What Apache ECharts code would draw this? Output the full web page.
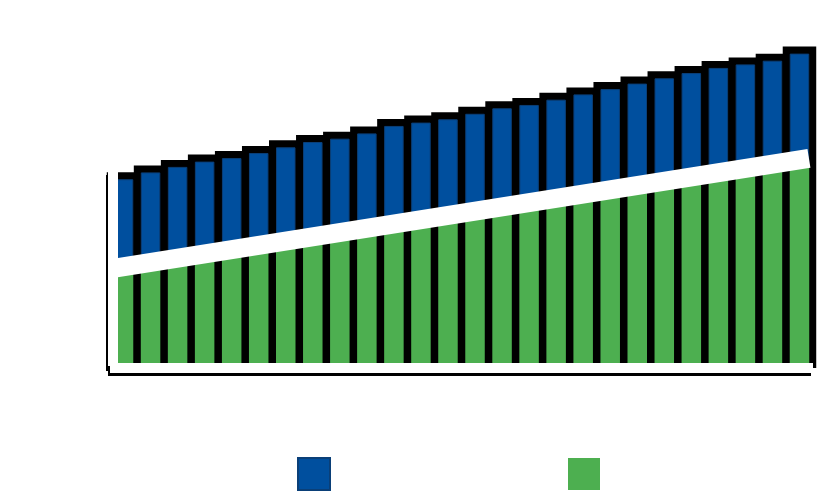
<!DOCTYPE html>
<html>
<head>
<meta charset="utf-8">
<title>Stacked bars</title>
<script src="https://cdn.jsdelivr.net/npm/echarts@6/dist/echarts.min.js"></script>
<style>
  html, body { margin: 0; padding: 0; background: #fff; }
  #chart { width: 817px; height: 495px; }
</style>
</head>
<body>
<div id="chart"></div>
<script>
(function () {
  'use strict';

  const categories = ['1', '2', '3', '4', '5', '6', '7', '8', '9', '10', '11', '12', '13',
    '14', '15', '16', '17', '18', '19', '20', '21', '22', '23', '24', '25', '26'];

  const totals = [96.3, 99.8, 102.6, 105.3, 107.1, 109.7, 112.6, 115.3, 117.0, 119.7, 123.5, 125.2, 126.9,
    129.7, 132.5, 134.2, 136.9, 139.6, 142.3, 145.1, 147.8, 150.5, 153.1, 154.9, 156.8, 160.4];

  // lower (green) part, the split sits under the white line
  const lower = [51.7, 53.8, 55.9, 58.0, 60.1, 62.2, 64.3, 66.4, 68.5, 70.6, 72.7, 74.8, 76.9,
    79.0, 81.1, 83.2, 85.3, 87.4, 89.5, 91.6, 93.7, 95.8, 97.9, 100.0, 102.0, 104.1];

  const upper = totals.map((t, i) => Number((t - lower[i]).toFixed(1)));

  // white trend band, [position, value]
  const trend = [[0, 50.6], [25.85, 106.9]];

  const BAR_W = 19.5;
  const FRAME = 7;

  const chart = echarts.init(document.getElementById('chart'), null, { renderer: 'canvas' });

  const axisLine = {
    show: true,
    lineStyle: {
      color: '#ffffff',
      width: 10,
      cap: 'butt',
      shadowColor: '#000000',
      shadowBlur: 0,
      shadowOffsetX: -2,
      shadowOffsetY: 3
    }
  };

  // black block behind each column, a few px larger than the bar
  function renderFrame(params, api) {
    const top = api.coord([api.value(0), api.value(1)]);
    const base = api.coord([api.value(0), 0]);
    const w = BAR_W + FRAME * 2;
    return {
      type: 'rect',
      shape: { x: top[0] - w / 2, y: top[1] - FRAME, width: w, height: base[1] - top[1] + FRAME },
      style: { fill: '#000000' },
      silent: true
    };
  }

  chart.setOption({
    animation: false,
    backgroundColor: '#ffffff',
    grid: { left: 110, right: 4, top: 172, bottom: 127 },
    legend: {
      left: 297,
      top: 457,
      padding: 0,
      itemWidth: 32,
      itemHeight: 32,
      itemGap: 237,
      icon: 'rect',
      formatter: () => '',
      data: ['Upper', 'Lower']
    },
    xAxis: [
      {
        type: 'category',
        data: categories,
        z: 10,
        axisLine,
        axisTick: { show: false },
        axisLabel: { show: false },
        splitLine: { show: false }
      },
      { type: 'value', min: 0, max: 26, show: false }
    ],
    yAxis: {
      type: 'value',
      min: 0,
      max: 100,
      offset: -3,
      z: 10,
      axisLine,
      axisTick: { show: false },
      axisLabel: { show: false },
      splitLine: { show: false }
    },
    series: [
      {
        name: 'Frame',
        type: 'custom',
        data: totals.map((t, i) => [i, t]),
        renderItem: renderFrame,
        clip: false,
        silent: true,
        encode: { x: 0, y: 1 }
      },
      {
        name: 'Lower',
        type: 'bar',
        stack: 'total',
        data: lower,
        barWidth: BAR_W,
        clip: false,
        itemStyle: { color: '#4daf50' }
      },
      {
        name: 'Upper',
        type: 'bar',
        stack: 'total',
        data: upper,
        barWidth: BAR_W,
        clip: false,
        itemStyle: { color: '#004f9e', borderColor: '#0a3f78', borderWidth: 1 }
      },
      {
        name: 'Trend',
        type: 'line',
        xAxisIndex: 1,
        data: trend,
        showSymbol: false,
        clip: false,
        silent: true,
        z: 4,
        lineStyle: { color: '#ffffff', width: 19, cap: 'butt' }
      }
    ]
  });

  window.addEventListener('resize', () => chart.resize());
})();
</script>
</body>
</html>
